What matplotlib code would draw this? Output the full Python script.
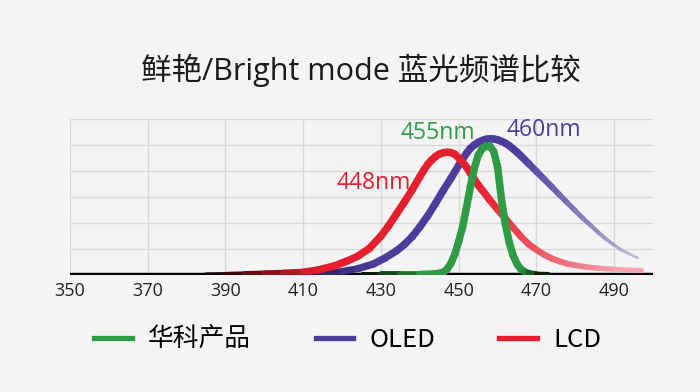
import numpy as np
import matplotlib
matplotlib.use("Agg")
import matplotlib.pyplot as plt
from matplotlib.collections import LineCollection
from matplotlib.colors import to_rgb
from matplotlib.lines import Line2D

# --- data ---
title = "鲜艳/Bright mode 蓝光频谱比较"
x_ticks = [350, 370, 390, 410, 430, 450, 470, 490]
series_names = ["华科产品", "OLED", "LCD"]
peak_labels = ["455nm", "460nm", "448nm"]

green_wl = [425, 430, 435, 440, 444, 446, 447, 448, 449, 450, 451, 452, 453, 454,
            455, 456, 457, 458, 459, 460, 461, 462, 463, 464, 465, 466, 467, 468,
            470, 473]
green_val = [0.02, 0.02, 0.02, 0.02, 0.04, 0.1, 0.22, 0.45, 0.8, 1.3, 1.85, 2.6, 3.4, 4.1,
             4.6, 4.85, 4.95, 4.95, 4.75, 4.15, 2.9, 1.95, 1.25, 0.75, 0.42, 0.22, 0.12, 0.07,
             0.03, 0.02]

oled_wl = [395, 400, 405, 410, 415, 420, 424, 428, 431, 434, 436, 438, 440, 442,
           444, 446, 448, 450, 452, 453, 454, 455, 456, 457, 458, 459, 460, 461,
           462, 463, 464, 465, 466, 468, 470, 472, 474, 476, 478, 480, 482, 484,
           486, 488, 490, 492, 494, 496]
oled_val = [0.01, 0.02, 0.03, 0.05, 0.08, 0.14, 0.24, 0.42, 0.65, 0.93, 1.17, 1.47, 1.85, 2.27,
            2.75, 3.25, 3.72, 4.22, 4.68, 4.87, 5.0, 5.1, 5.17, 5.22, 5.24, 5.23, 5.2, 5.14,
            5.07, 4.97, 4.85, 4.72, 4.58, 4.28, 3.98, 3.68, 3.38, 3.07, 2.77, 2.47, 2.17, 1.9,
            1.62, 1.37, 1.15, 0.95, 0.8, 0.66]

lcd_wl = [385, 390, 395, 400, 405, 410, 414, 418, 421, 424, 427, 430, 432, 434,
          436, 438, 440, 441, 442, 443, 444, 445, 446, 447, 448, 449, 450, 451,
          452, 453, 454, 455, 456, 458, 460, 462, 464, 466, 468, 470, 472, 474,
          476, 478, 480, 483, 486, 490, 494, 497]
lcd_val = [0.01, 0.02, 0.04, 0.06, 0.08, 0.11, 0.2, 0.35, 0.52, 0.72, 1.02, 1.5, 1.9, 2.35,
           2.8, 3.27, 3.78, 4.03, 4.25, 4.42, 4.55, 4.65, 4.7, 4.72, 4.71, 4.64, 4.5, 4.34,
           4.15, 3.92, 3.68, 3.46, 3.27, 2.88, 2.52, 2.17, 1.82, 1.48, 1.18, 0.97, 0.78, 0.63,
           0.52, 0.43, 0.37, 0.3, 0.26, 0.22, 0.19, 0.17]

# --- style ---
BG = "#f4f4f4"
GREEN = "#2f9b45"
PURPLE = "#4b3d9c"
RED = "#e61e2e"
LW = 5.4
BASE_LW = 3.2
plt.rcParams["font.family"] = ["Open Sans", "Noto Sans CJK SC", "DejaVu Sans"]


def faded_line(ax, wl, val, color, left_span, right_span, right_to, right_amt, right_lw, z):
    """Thick line whose ends blend (and taper) into the baseline / background."""
    wl = np.asarray(wl, float)
    val = np.asarray(val, float)
    pts = np.column_stack([wl, val]).reshape(-1, 1, 2)
    segs = np.concatenate([pts[:-1], pts[1:]], axis=1)
    mid = (wl[:-1] + wl[1:]) / 2
    base = np.array(to_rgb(color))
    black = np.zeros(3)
    far = np.array(to_rgb(right_to))
    cols, widths = [], []
    for m in mid:
        c = base.copy()
        w = LW
        a0, a1 = left_span
        if m < a1:
            t = np.clip((m - a0) / (a1 - a0), 0, 1)
            c = black * (1 - t) + base * t
            w = BASE_LW + (LW - BASE_LW) * t
        b0, b1 = right_span
        if m > b0:
            t = np.clip((m - b0) / (b1 - b0), 0, 1)
            c = c * (1 - t * right_amt) + far * t * right_amt
            w = LW + (right_lw - LW) * t
        cols.append(c)
        widths.append(w)
    lc = LineCollection(segs, colors=cols, linewidths=widths, capstyle="round",
                        joinstyle="round", zorder=z)
    ax.add_collection(lc)


fig = plt.figure(figsize=(7, 3.92), dpi=100, facecolor=BG)
ax = fig.add_axes([0.1, 0.2985, 0.833, 0.398])
ax.set_facecolor(BG)

ax.set_xlim(350, 500)
ax.set_ylim(0, 6)
ax.set_xticks(x_ticks)
ax.set_yticks(range(0, 7))
ax.set_yticklabels([])
ax.tick_params(length=0, labelsize=13, labelcolor="#222222", pad=5)
ax.grid(True, color="#d9d9d9", lw=1.0, zorder=0)
for s in ax.spines.values():
    s.set_visible(False)

ax.axhline(0, color="black", lw=BASE_LW, zorder=2)

faded_line(ax, oled_wl, oled_val, PURPLE, (395, 428), (466, 497), BG, 0.7, 1.6, 3)
faded_line(ax, lcd_wl, lcd_val, RED, (385, 414), (455, 492), "#f6c6d0", 0.8, 3.6, 4)
faded_line(ax, green_wl, green_val, GREEN, (425, 442), (466, 473), "#000000", 1.0, BASE_LW, 5)

ax.text(444.6, 5.46, peak_labels[0], color=GREEN, fontsize=16.5, ha="center", va="center", zorder=6)
ax.text(471.8, 5.58, peak_labels[1], color=PURPLE, fontsize=16.5, ha="center", va="center", zorder=6)
ax.text(428.2, 3.54, peak_labels[2], color=RED, fontsize=16.5, ha="center", va="center", zorder=6)

fig.text(0.515, 0.82, title, fontsize=22, ha="center", va="center", color="#1a1a1a",
         family=["Open Sans", "Noto Sans CJK SC"])

handles = [Line2D([], [], color=c, lw=3.8) for c in (GREEN, PURPLE, RED)]
fig.legend(handles, series_names, loc="center", bbox_to_anchor=(0.497, 0.133), ncol=3,
           frameon=False, handlelength=1.45, handletextpad=0.65,
           columnspacing=2.5, prop={"family": ["Noto Sans CJK SC"], "size": 18.5})

fig.savefig("out.png", dpi=100, facecolor=BG)
